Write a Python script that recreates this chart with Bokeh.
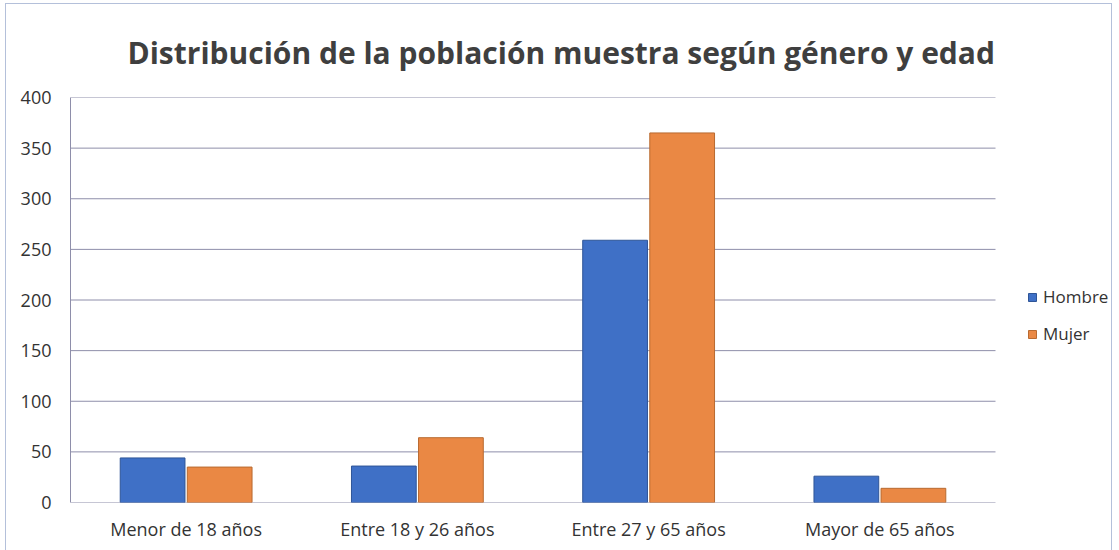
from bokeh.plotting import figure
from bokeh.models import ColumnDataSource, Range1d, FixedTicker, Legend, LegendItem
from bokeh.transform import dodge
from bokeh.embed import file_html
from bokeh.resources import INLINE

categories = ["Menor de 18 años", "Entre 18 y 26 años", "Entre 27 y 65 años", "Mayor de 65 años"]
hombre = [44, 36, 259, 26]
mujer = [35, 64, 365, 14]
series_names = ["Hombre", "Mujer"]
y_ticks = [0, 50, 100, 150, 200, 250, 300, 350, 400]

n = len(categories)
xpos = [i + 0.5 for i in range(n)]
src = ColumnDataSource(dict(x=xpos, cat=categories, hombre=hombre, mujer=mujer))

AXIS_W = 925          # pixel width of the plotting area used by the categories
FRAME_W = 1041        # frame includes room on the right for the legend
x_end = n * FRAME_W / AXIS_W

p = figure(frame_width=FRAME_W, frame_height=405, output_backend="svg", toolbar_location=None,
           x_range=Range1d(0, x_end), y_range=Range1d(0, 400),
           title="Distribución de la población muestra según género y edad",
           min_border_left=64, min_border_top=80, min_border_bottom=48, min_border_right=0)
p.styles = {"border": "1px solid #b4c0da", "margin-left": "5px", "margin-top": "3px"}

p.title.text_font = "Open Sans"
p.title.text_font_style = "bold"
p.title.text_font_size = "30px"
p.title.text_color = "#3f3f3f"
p.title.align = "left"
p.title.offset = 57
p.title.standoff = 50

grid_color = "#8e8eaa"
# horizontal gridlines spanning only the category area
p.segment(x0=[0] * len(y_ticks), x1=[n] * len(y_ticks), y0=y_ticks, y1=y_ticks,
          line_color=grid_color, line_width=1)

b1 = p.vbar(x=dodge("x", -0.145), top="hombre", width=0.28, source=src,
            fill_color="#3f70c6", line_color="#2f5597", line_width=1)
b2 = p.vbar(x=dodge("x", 0.145), top="mujer", width=0.28, source=src,
            fill_color="#ea8844", line_color="#b86a30", line_width=1)

p.xaxis.ticker = FixedTicker(ticks=xpos)
p.xaxis.major_label_overrides = {x: c for x, c in zip(xpos, categories)}
p.yaxis.ticker = FixedTicker(ticks=y_ticks)
p.xaxis.major_tick_line_color = None
p.yaxis.major_tick_line_color = None
p.xaxis.minor_tick_line_color = None
p.yaxis.minor_tick_line_color = None
p.xaxis.axis_line_color = None
p.yaxis.axis_line_color = grid_color
for ax in (p.xaxis[0], p.yaxis[0]):
    ax.major_label_text_font = "Open Sans"
    ax.major_label_text_font_size = "18px"
    ax.major_label_text_color = "#333333"
p.yaxis.major_label_standoff = 13
p.xaxis.major_label_standoff = 8
p.xgrid.grid_line_color = None
p.ygrid.grid_line_color = None
p.outline_line_color = None

legend = Legend(items=[LegendItem(label=series_names[0], renderers=[b1]),
                       LegendItem(label=series_names[1], renderers=[b2])],
                location=(957, 157), border_line_color=None, background_fill_alpha=0,
                label_text_font="Open Sans", label_text_font_size="17px",
                label_text_color="#333333", glyph_width=10, glyph_height=10,
                label_height=23, label_standoff=6, spacing=14, margin=0, padding=0)
p.add_layout(legend, "center")

open("out.html", "w").write(file_html(p, INLINE))
